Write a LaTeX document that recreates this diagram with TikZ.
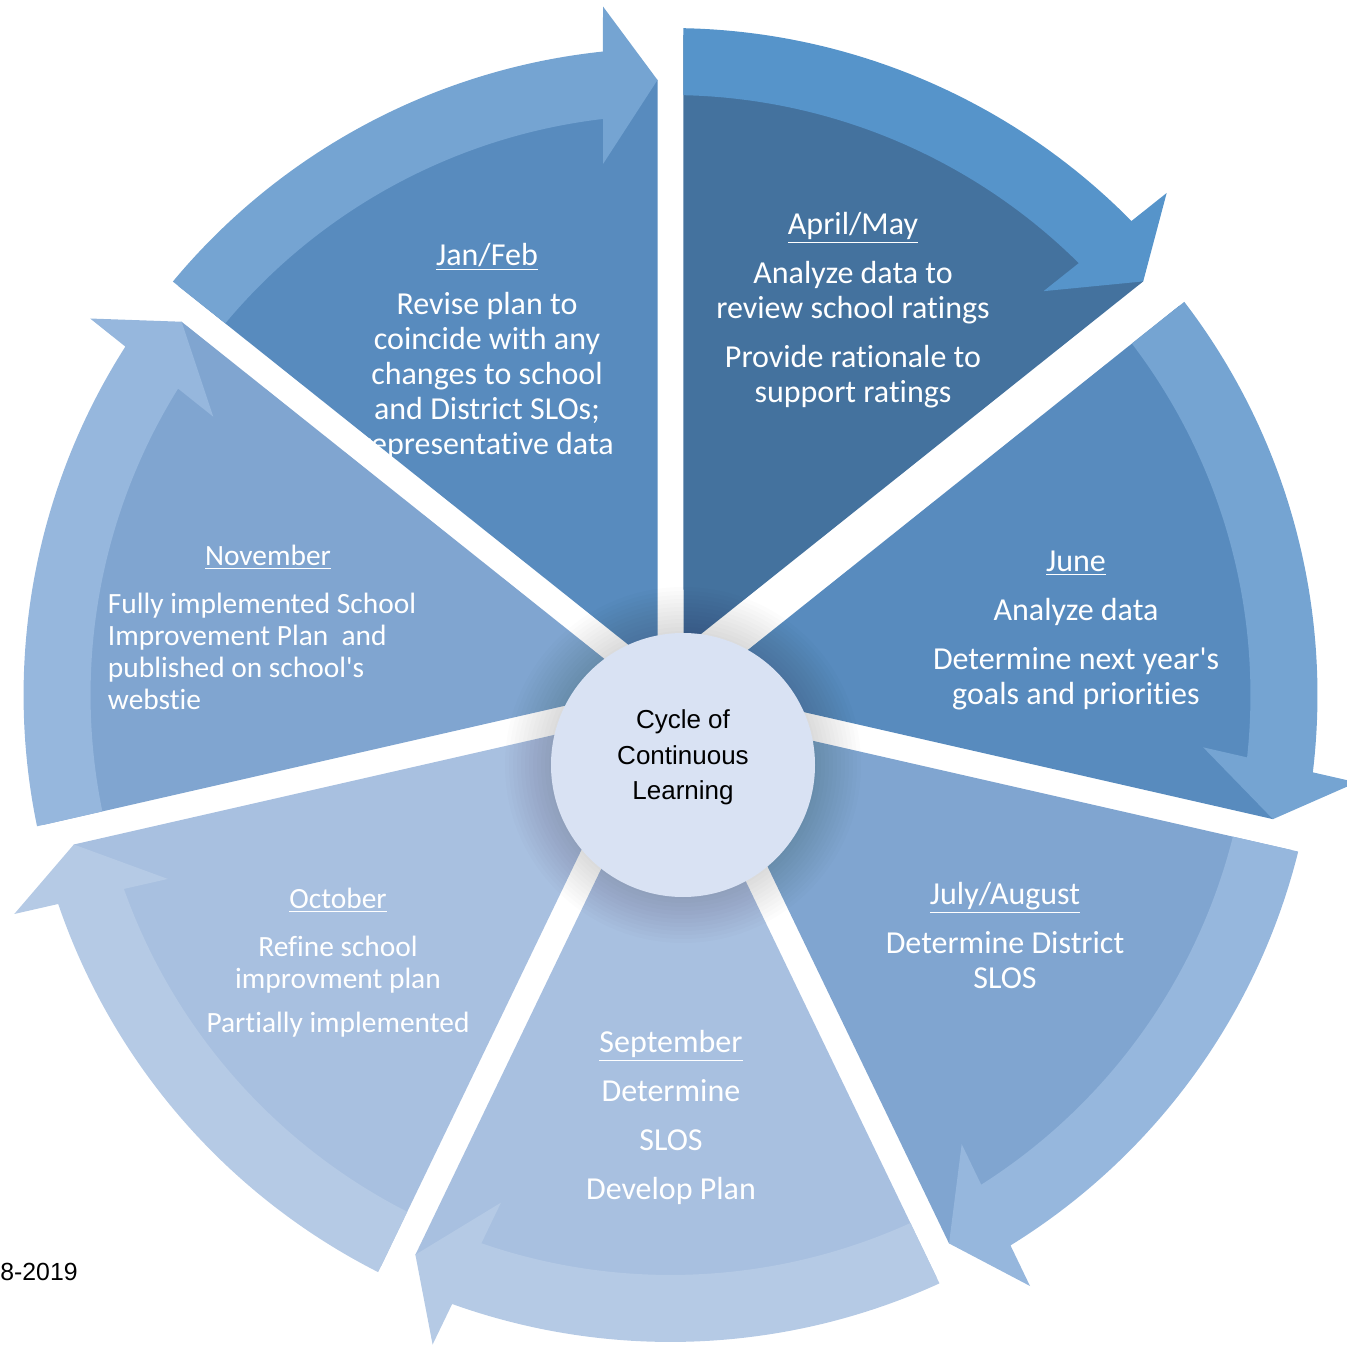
\documentclass[tikz,border=0pt]{standalone}
\usepackage{fontspec}
\setmainfont{Carlito}[Ligatures={TeX,NoCommon}]
\newfontfamily\hubfont{Liberation Sans}
\definecolor{bandmid}{HTML}{75A4D2}
\definecolor{piemid}{HTML}{588BBE}
\definecolor{bandhi}{HTML}{5694CA}
\definecolor{piehi}{HTML}{44729E}
\definecolor{bandlt}{HTML}{96B7DD}
\definecolor{pielt}{HTML}{80A5D0}
\definecolor{bandpale}{HTML}{B5CAE5}
\definecolor{piepale}{HTML}{A8C0E0}
\definecolor{hubfill}{HTML}{D9E2F3}
\tikzset{month/.style={text=white, align=center, inner sep=0pt,
    font=\fontsize{16}{17.5}\selectfont},
    tight month/.style={month, font=\fontsize{14.7}{16}\selectfont},
    hub/.style={circle, fill=hubfill, minimum size=132pt, inner sep=0pt},
    hubtext/.style={align=center, inner sep=0pt,
    font=\hubfont\fontsize{13}{17.8}\selectfont},
    }
% one piece of the wheel: turn, band colour, pie colour, lift
\newcommand{\wheelpiece}[4]{%
  \begin{scope}[yshift=#4, rotate=#1]
  \fill[#3] (-13,27) -- (-13,615) -- (96:640)
    arc[start angle=96, end angle=140.27, radius=640] -- cycle;
  \fill[#2] (140.28:647) arc[start angle=140.28, end angle=95.99, radius=647]
    -- (-67.5,688.5) -- (-13,615) -- (-67.5,531) -- (96.68:580)
    arc[start angle=96.68, end angle=140.15, radius=580] -- cycle;
  \end{scope}}

\begin{document}
\begin{tikzpicture}[x=0.5pt, y=0.5pt]
\useasboundingbox (-670.5,-653) rectangle (675.5,695);
\wheelpiece{0}{bandmid}{piemid}{0pt}
\node[month] (janfeb) at (-183.5,343.5) {\underline{Jan/Feb}\\[7pt]Revise plan to\\coincide with any\\changes to school\\and District SLOs;\\representative data};
\wheelpiece{-51.4286}{bandhi}{piehi}{10pt}
\node[month] (aprmay) at (182.5,384.5) {\underline{April/May}\\[7pt]Analyze data to\\review school ratings\\[7pt]Provide rationale to\\support ratings};
\wheelpiece{-102.857}{bandmid}{piemid}{0pt}
\node[month] (june) at (405.5,64.5) {\underline{June}\\[7pt]Analyze data\\[7pt]Determine next year\textquotesingle s\\goals and priorities};
\wheelpiece{-154.286}{bandlt}{pielt}{0pt}
\node[month] (julaug) at (334.5,-240.5) {\underline{July/August}\\[7pt]Determine District\\SLOS};
\wheelpiece{-205.714}{bandpale}{piepale}{0pt}
\node[month] (sept) at (0.5,-422) {\underline{September}\\[7pt]Determine\\[7pt]SLOS\\[7pt]Develop Plan};
\wheelpiece{-257.143}{bandpale}{piepale}{0pt}
\node[tight month] (oct) at (-332.5,-268) {\underline{October}\\[8pt]Refine school\\improvment plan\\[6pt]Partially implemented};
\wheelpiece{-308.571}{bandlt}{pielt}{0pt}
\node[tight month, text width=160pt, align=flush left] (nov) at (-402.5,67.5) {{\centering\underline{November}\par}\vspace{8pt}Fully implemented School\\Improvement Plan~ and\\published on school\textquotesingle s\\webstie};
% hub with its soft glow
\coordinate (hubc) at (12.5,-70);
\foreach \r in {134,138,...,178} \fill[black, opacity=0.012] (hubc) circle (\r);
\node[hub] (hub) at (hubc) {};
\node[hubtext] (hubtext) at (12.5,-62.5) {Cycle of\\Continuous\\Learning};
\node[anchor=west, inner sep=0pt, font=\hubfont\fontsize{12.4}{14}\selectfont] (year) at (-670.5,-577) {8-2019};
\end{tikzpicture}
\end{document}
